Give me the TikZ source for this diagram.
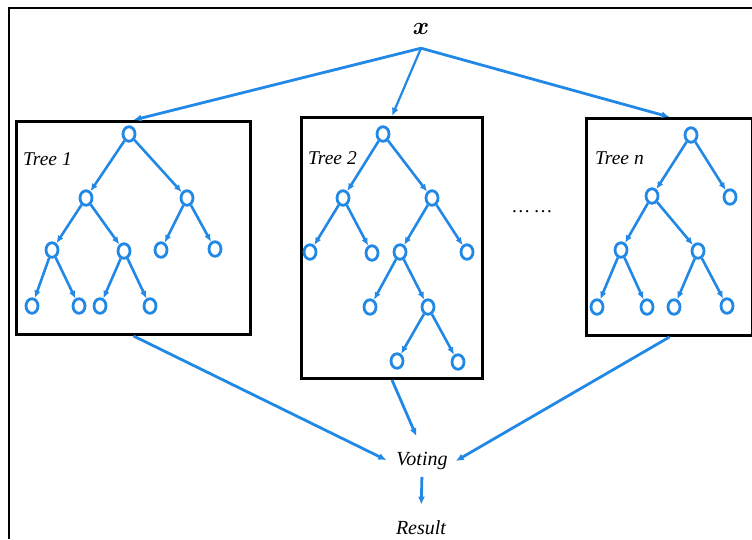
\documentclass[tikz,border=0pt]{standalone}
\usepackage{bm}
\usepackage{fontspec}
\setmainfont{Liberation Serif}
\usetikzlibrary{shapes.geometric,arrows.meta}
\definecolor{tblue}{RGB}{33,136,229}
\begin{document}
\begin{tikzpicture}[x=1pt,y=-1pt,
  tn/.style={ellipse,draw=tblue,line width=2.8pt,minimum width=12pt,minimum height=14.5pt,inner sep=0pt},
  tedge/.style={tblue,line width=2.6pt,-{Latex[length=7.5pt,width=6.5pt]}},
  flow/.style={tblue,line width=2.8pt,-{Latex[length=8pt,width=7pt]}},
  treebox/.style={draw=black,line width=3pt,inner sep=0pt,anchor=north west},
  lbl/.style={font=\fontsize{19.5}{19.5}\selectfont\itshape,anchor=west,inner sep=0pt},
  bigtxt/.style={font=\fontsize{20}{20}\selectfont\itshape},
  frameline/.style={black,line width=2.2pt}]
\useasboundingbox (0,0) rectangle (752,539);
% outer frame
\coordinate (fa) at (9,539);
\coordinate (fb) at (9,8);
\coordinate (fc) at (752,8);
\draw[frameline] (fa) -- (fb) -- (fc);
% boxes
\node[treebox,minimum width=234pt,minimum height=213pt] (b1) at (15,120) {};
\node[treebox,minimum width=181pt,minimum height=261pt] (b2) at (300,116) {};
\node[treebox,minimum width=166pt,minimum height=217pt] (bn) at (585,117) {};
% labels
\node[lbl] (l1) at (23,159) {Tree 1};
\node[lbl] (l2) at (308,158) {Tree 2};
\node[lbl] (ln) at (595,158) {Tree n};
\node[font=\fontsize{19}{19}\selectfont] (dots) at (532,212) {…\,…};
% input
\node[font=\fontsize{28}{28}\selectfont,minimum height=38pt,inner sep=0pt] (xin) at (421,29) {$\bm{x}$};
% tree 1
\node[tn] (a0) at (129,134) {};
\node[tn] (a1) at (86,198) {};
\node[tn] (a2) at (187,198) {};
\node[tn] (a3) at (52,250) {};
\node[tn] (a4) at (124,251) {};
\node[tn] (a5) at (161,250) {};
\node[tn] (a6) at (215,249) {};
\node[tn] (a7) at (32,306) {};
\node[tn] (a8) at (79,306) {};
\node[tn] (a9) at (100,306) {};
\node[tn] (a10) at (150,306) {};
% tree 2
\node[tn] (c0) at (383,134) {};
\node[tn] (c1) at (343,198) {};
\node[tn] (c2) at (432,198) {};
\node[tn] (c3) at (310,252) {};
\node[tn] (c4) at (372,253) {};
\node[tn] (c5) at (400,252) {};
\node[tn] (c6) at (467,252) {};
\node[tn] (c7) at (370,307) {};
\node[tn] (c8) at (428,307) {};
\node[tn] (c9) at (397,361) {};
\node[tn] (c10) at (458,362) {};
% tree n
\node[tn] (d0) at (691,135) {};
\node[tn] (d1) at (652,196) {};
\node[tn] (d2) at (730,197) {};
\node[tn] (d3) at (621,250) {};
\node[tn] (d4) at (698,251) {};
\node[tn] (d5) at (597,307) {};
\node[tn] (d6) at (647,307) {};
\node[tn] (d7) at (674,307) {};
\node[tn] (d8) at (727,306) {};
\foreach \p/\c in {a0/a1,a0/a2,a1/a3,a1/a4,a2/a5,a2/a6,a3/a7,a3/a8,a4/a9,a4/a10,
  c0/c1,c0/c2,c1/c3,c1/c4,c2/c5,c2/c6,c5/c7,c5/c8,c8/c9,c8/c10,
  d0/d1,d0/d2,d1/d3,d1/d4,d3/d5,d3/d6,d4/d7,d4/d8}
  \draw[tedge] (\p) -- (\c);
% voting and result
\node[bigtxt,inner xsep=8pt,inner ysep=3pt] (v) at (422,461) {Voting};
\node[bigtxt,anchor=base] (r) at (421,534) {Result};
% flow arrows
\draw[flow] (xin.south) -- (b1.north);
\draw[flow,line width=2.2pt] (xin.south) -- (b2.north);
\draw[flow] (xin.south) -- (bn.north);
\draw[flow,shorten >=2pt] (b1.south) -- (v.west);
\draw[flow,shorten >=14pt] (b2.south) -- (v.north);
\draw[flow] (bn.south) -- (v.east);
\draw[flow,shorten <=4pt,shorten >=12pt] (v.south) -- (r.north);
\end{tikzpicture}
\end{document}
